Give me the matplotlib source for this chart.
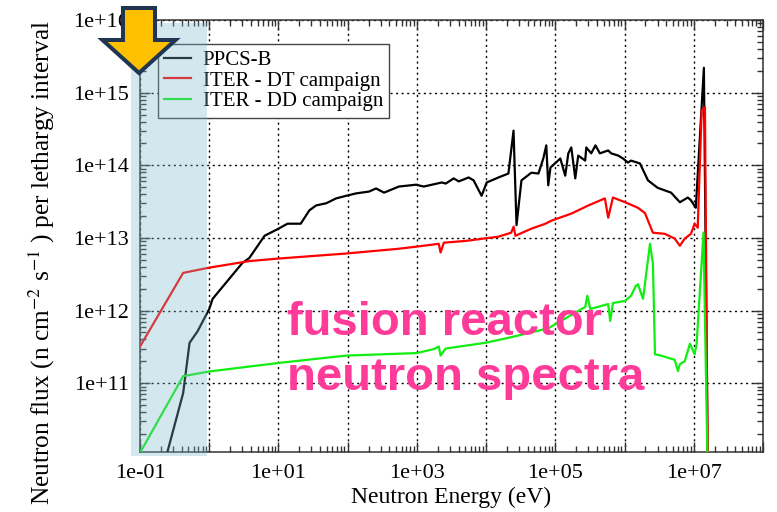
import math
import matplotlib
matplotlib.use("Agg")
import matplotlib.pyplot as plt
from matplotlib.patches import Rectangle, Polygon
from matplotlib.ticker import FixedLocator, FuncFormatter, LogLocator, NullFormatter

plt.rcParams["font.family"] = ["Liberation Serif", "DejaVu Serif"]
plt.rcParams["mathtext.fontset"] = "stix"

# PPCS-B spectrum (eV, n cm^-2 s^-1 per lethargy)
ppcs_energy = [0.19, 0.25, 0.42, 0.52, 0.68, 1.0, 1.12, 3.0, 3.8, 6.3, 10, 13.5, 21, 28, 35,
               49, 68, 95, 132, 204, 257, 335, 551, 968, 1260, 2290, 2610, 3400, 4020, 5600,
               6600, 8600, 1.02e4, 1.51e4, 2.1e4, 2.49e4, 2.75e4, 3.24e4, 4.5e4, 5.7e4, 6.7e4,
               7.4e4, 7.9e4, 8.5e4, 1.18e5, 1.39e5, 1.54e5, 1.70e5, 1.94e5, 2.14e5, 2.7e5,
               2.8e5, 3.3e5, 3.8e5, 4.4e5, 5.8e5, 6.4e5, 8.1e5, 9.5e5, 1.12e6, 1.24e6, 1.67e6,
               2.18e6, 3.0e6, 4.7e6, 6.3e6, 8.2e6, 9.1e6, 1.07e7, 1.4e7, 1.6e7]
ppcs_flux = [4.5e9, 1.15e10, 7.3e10, 3.6e11, 5.2e11, 1.05e12, 1.45e12, 4.5e12, 5.3e12, 1.07e13,
             1.34e13, 1.57e13, 1.57e13, 2.4e13, 2.8e13, 3.0e13, 3.5e13, 3.8e13, 4.1e13, 4.35e13,
             4.8e13, 4.2e13, 5.1e13, 5.4e13, 5.1e13, 5.8e13, 5.6e13, 6.6e13, 6.0e13, 6.8e13,
             6.2e13, 3.8e13, 5.8e13, 6.8e13, 7.7e13, 3.0e14, 1.5e13, 6.2e13, 7.9e13, 7.7e13,
             1.24e14, 1.88e14, 5.3e13, 9.3e13, 1.24e14, 7.2e13, 1.46e14, 1.76e14, 6.6e13,
             1.36e14, 1.16e14, 1.76e14, 1.46e14, 1.88e14, 1.46e14, 1.6e14, 1.46e14, 1.36e14,
             1.24e14, 1.09e14, 1.16e14, 1.06e14, 6.2e13, 4.9e13, 4.2e13, 3.1e13, 3.6e13,
             3.3e13, 2.6e13, 2.2e15, 4e9]

# ITER DT campaign
dt_energy = [0.1, 0.42, 1.0, 3.8, 10, 95, 550, 1000, 2070, 2200, 2450, 5100, 9200, 1.5e4,
             2.3e4, 2.5e4, 2.65e4, 4.5e4, 7.2e4, 8.8e4, 1.7e5, 3.0e5, 5.2e5, 5.8e5, 6.8e5,
             1.02e6, 1.56e6, 1.97e6, 2.18e6, 2.57e6, 3.8e6, 5.3e6, 6.3e6, 7.4e6, 9.1e6,
             1.03e7, 1.14e7, 1.3e7, 1.45e7, 1.6e7]
dt_flux = [3.2e11, 3.3e12, 3.9e12, 4.8e12, 5.2e12, 6.1e12, 7.1e12, 7.6e12, 8.3e12, 6.3e12,
           8.6e12, 9.1e12, 9.8e12, 1.04e13, 1.18e13, 1.43e13, 1.07e13, 1.34e13, 1.57e13,
           1.73e13, 2.16e13, 2.8e13, 3.5e13, 1.9e13, 3.6e13, 3.1e13, 2.6e13, 2.2e13, 1.73e13,
           1.18e13, 1.14e13, 9.8e12, 7.8e12, 9.8e12, 1.14e13, 1.57e13, 1.38e13, 5.7e14,
           6.3e14, 4e9]

# ITER DD campaign
dd_energy = [0.1, 0.42, 1.0, 10, 95, 1000, 1760, 2070, 2200, 2600, 9800, 2.3e4, 7.9e4,
             2.7e5, 2.9e5, 3.2e5, 5.8e5, 6.2e5, 6.8e5, 1.02e6, 1.24e6, 1.46e6, 1.56e6,
             1.85e6, 2.33e6, 2.57e6, 2.75e6, 3.35e6, 5.3e6, 5.9e6, 6.3e6, 7.4e6, 8.8e6,
             1.03e7, 1.1e7, 1.38e7, 1.6e7]
dd_flux = [1.1e10, 1.25e11, 1.45e11, 1.9e11, 2.4e11, 2.6e11, 2.95e11, 3.2e11, 2.4e11, 3.0e11,
           3.6e11, 4.3e11, 5.7e11, 1.12e12, 1.6e12, 1.05e12, 1.23e12, 7.2e11, 1.27e12,
           1.36e12, 1.6e12, 2.2e12, 2.3e12, 1.45e12, 8.3e12, 4.4e12, 2.5e11, 2.4e11, 2.1e11,
           1.47e11, 1.83e11, 2.0e11, 3.5e11, 2.5e11, 3.5e11, 1.18e13, 4e9]

series_labels = ["PPCS-B", "ITER - DT campaign", "ITER - DD campaign"]
x_label_exponents = [-1, 1, 3, 5, 7]

W, H = 777, 512
fig = plt.figure(figsize=(W / 100, H / 100), dpi=100)


def fx(px):
    return px / W


def fy(py):
    return 1 - py / H


ax = fig.add_axes([fx(140), fy(452), fx(763) - fx(140), fy(20) - fy(452)])
ax.patch.set_alpha(0)

ax.plot(ppcs_energy, ppcs_flux, color="#000000", lw=1.6, label=series_labels[0], zorder=3)
ax.plot(dt_energy, dt_flux, color="#ff0000", lw=1.6, label=series_labels[1], zorder=4)
ax.plot(dd_energy, dd_flux, color="#11ee11", lw=1.6, label=series_labels[2], zorder=5)

ax.set_xscale("log")
ax.set_yscale("log")
ax.set_xlim(1e-1, 1e8)
ax.set_ylim(1.13e10, 1e16)

ax.xaxis.set_major_locator(FixedLocator([10.0 ** k for k in range(-1, 9)]))
ax.xaxis.set_major_formatter(FuncFormatter(
    lambda v, p: f"{v:.0e}" if round(math.log10(v)) in x_label_exponents else ""))
ax.xaxis.set_minor_locator(LogLocator(base=10, subs=range(2, 10), numticks=50))
ax.xaxis.set_minor_formatter(NullFormatter())
ax.yaxis.set_major_locator(FixedLocator([10.0 ** k for k in range(11, 17)]))
ax.yaxis.set_major_formatter(FuncFormatter(lambda v, p: f"{v:.0e}"))
ax.yaxis.set_minor_locator(LogLocator(base=10, subs=range(2, 10), numticks=50))
ax.yaxis.set_minor_formatter(NullFormatter())

ax.tick_params(which="both", direction="in", top=True, right=True, color="#333333", width=1.0)
ax.tick_params(which="major", length=7, labelsize=16)
ax.tick_params(which="minor", length=4.5)
ax.tick_params(axis="y", pad=8)
ax.tick_params(axis="x", pad=9)
for s in ax.spines.values():
    s.set_color("#333333")
    s.set_linewidth(1.1)

ax.grid(True, which="major", color="black", linestyle=(0, (1.5, 2.5)), linewidth=1.0)

leg = ax.legend(loc="upper left", bbox_to_anchor=(0.029, 0.944), borderaxespad=0,
                fontsize=15, frameon=True, fancybox=False, framealpha=1,
                edgecolor="#444444", handlelength=1.3, handletextpad=0.55,
                labelspacing=0.05, borderpad=0.3)
leg.get_frame().set_linewidth(1.0)
leg.set_zorder(6)

fig.text(fx(451), fy(497), "Neutron Energy (eV)", ha="center", va="center", fontsize=17)
fig.text(fx(42), fy(263), r"Neutron flux (n cm$^{-2}$ s$^{-1}$ ) per lethargy interval",
         ha="center", va="center", rotation=90, fontsize=18.3)

# translucent highlight over the thermal region
fig.add_artist(Rectangle((fx(131), fy(456)), fx(207) - fx(131), fy(23) - fy(456),
                         transform=fig.transFigure, facecolor="#7ab9cc", alpha=0.33,
                         edgecolor="none", zorder=8))

# pointer arrow
arrow_px = [(123, 8), (155, 8), (155, 40), (175.5, 40), (139, 73), (102.5, 40), (123, 40)]
fig.add_artist(Polygon([(fx(x), fy(y)) for x, y in arrow_px], closed=True,
                       transform=fig.transFigure, facecolor="#ffc000",
                       edgecolor="#1f3552", linewidth=2.9, joinstyle="miter", zorder=10))

for line, base in (("fusion reactor", 335), ("neutron spectra", 390)):
    fig.text(fx(287), fy(base), line, ha="left", va="baseline", fontsize=34,
             fontweight="bold", family=["Liberation Sans", "DejaVu Sans"],
             color="#ff3b9a", zorder=9)

fig.savefig("out.png", dpi=100)
